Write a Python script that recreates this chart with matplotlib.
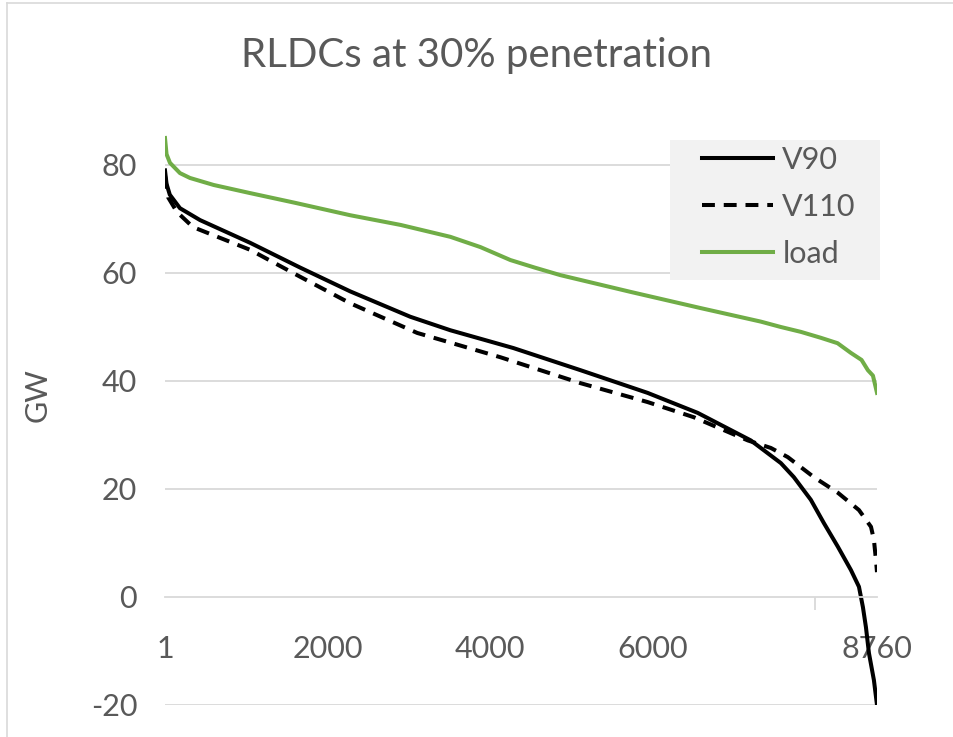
import matplotlib
matplotlib.use("Agg")
import matplotlib.pyplot as plt
from matplotlib.lines import Line2D
from matplotlib.patches import Rectangle

plt.rcParams["font.family"] = ["Lato", "DejaVu Sans"]
plt.rcParams["axes.unicode_minus"] = False

TEXT = "#595959"
GRID = "#D9D9D9"
GREEN = "#70AD47"

# hours of the year (sorted duration curve), GW
load_h = [1, 20, 62, 185, 308, 600, 1047, 1600, 2279, 2900, 3511, 3881, 4250,
          4550, 4866, 5729, 6591, 7330, 7577, 7823, 8069, 8275, 8439, 8570,
          8648, 8710, 8760]
load_gw = [85, 82, 80.4, 78.5, 77.6, 76.3, 74.8, 73.0, 70.7, 68.9, 66.7, 64.8,
           62.4, 61.0, 59.6, 56.5, 53.5, 51.0, 50.0, 49.1, 48.0, 47.0, 45.2,
           43.9, 42.0, 41.0, 37.8]

v90_h = [1, 20, 60, 185, 432, 1047, 1664, 2279, 3018, 3511, 4287, 5113, 5938,
         6554, 7207, 7577, 7737, 7946, 8106, 8279, 8439, 8538, 8587, 8624,
         8661, 8722, 8760]
v90_gw = [79, 76.5, 74.5, 72.0, 69.8, 65.6, 61.0, 56.6, 51.9, 49.4, 46.1, 42.0,
          37.8, 34.1, 29.0, 24.8, 22.2, 18.0, 13.7, 9.3, 5.0, 1.9, -1.9, -5.6,
          -10.4, -15.4, -20.0]

v110_h = [1, 40, 148, 345, 1047, 1664, 2279, 3104, 4127, 5113, 5938, 6505,
          7170, 7454, 7663, 7983, 8279, 8538, 8686, 8722, 8747, 8760]
v110_gw = [78, 74, 71.3, 68.5, 64.3, 59.3, 54.4, 48.9, 44.4, 39.6, 36.1, 33.3,
           29.0, 27.6, 25.9, 22.2, 19.3, 16.1, 13.0, 10.6, 6.9, 4.6]

x_major = [1, 2000, 4000, 6000, 8760]
x_marks = [1, 2000, 4000, 6000, 8000]
y_ticks = [-20, 0, 20, 40, 60, 80]

fig = plt.figure(figsize=(9.54, 7.37), dpi=100)
ax = fig.add_axes([165 / 954, 1 - 705 / 737, 712 / 954, 594 / 737])

ax.plot(v90_h, v90_gw, color="black", lw=2.9, label="V90")
ax.plot(v110_h, v110_gw, color="black", lw=2.9, dashes=(3.2, 2.2), label="V110")
ax.plot(load_h, load_gw, color=GREEN, lw=2.9, label="load")

ax.set_xlim(1, 8760)
ax.set_ylim(-20, 90)

# y axis
ax.set_yticks(y_ticks)
ax.tick_params(axis="y", length=0, pad=20, labelsize=22, labelcolor=TEXT)
for y in y_ticks:
    if y != 0:
        ax.axhline(y, color=GRID, lw=1.3, zorder=0)

# x axis sits at 0
for s in ("top", "right", "left"):
    ax.spines[s].set_visible(False)
ax.spines["bottom"].set_position(("data", 0))
ax.spines["bottom"].set_color(GRID)
ax.spines["bottom"].set_linewidth(1.3)
ax.set_xticks(x_major)
ax.set_xticklabels([str(v) for v in x_major])
ax.set_xticks(x_marks, minor=True)
ax.tick_params(axis="x", which="major", length=0, pad=27, labelsize=22,
               labelcolor=TEXT)
ax.tick_params(axis="x", which="minor", length=9, width=1.3, color=GRID,
               direction="out")

ax.set_ylabel("GW", fontsize=22, color=TEXT, labelpad=0)
ax.yaxis.set_label_coords(-113 / 712, (705 - 395) / 594)

fig.suptitle("RLDCs at 30% penetration", fontsize=29, color=TEXT, y=1 - 55 / 737,
             va="center")

# legend box drawn separately, legend itself without frame
ax.add_patch(Rectangle(((670 - 165) / 712, (705 - 280) / 594), 210 / 712, 140 / 594,
                       transform=ax.transAxes, facecolor="#F2F2F2",
                       edgecolor="none", zorder=4, clip_on=False))
leg = ax.legend(loc="upper left", bbox_to_anchor=((702 - 165) / 712, (705 - 146) / 594),
                fontsize=22, frameon=False, handlelength=2.33,
                handletextpad=0.3, labelspacing=0.62, borderaxespad=0,
                borderpad=0)
leg.set_zorder(5)
for t in leg.get_texts():
    t.set_color(TEXT)

# chart area border
fig.add_artist(Line2D([7 / 954, 7 / 954], [0, 1 - 3 / 737], color=GRID, lw=1.2))
fig.add_artist(Line2D([7 / 954, 1], [1 - 3 / 737, 1 - 3 / 737], color=GRID, lw=1.2))

fig.savefig("out.png", dpi=100)
